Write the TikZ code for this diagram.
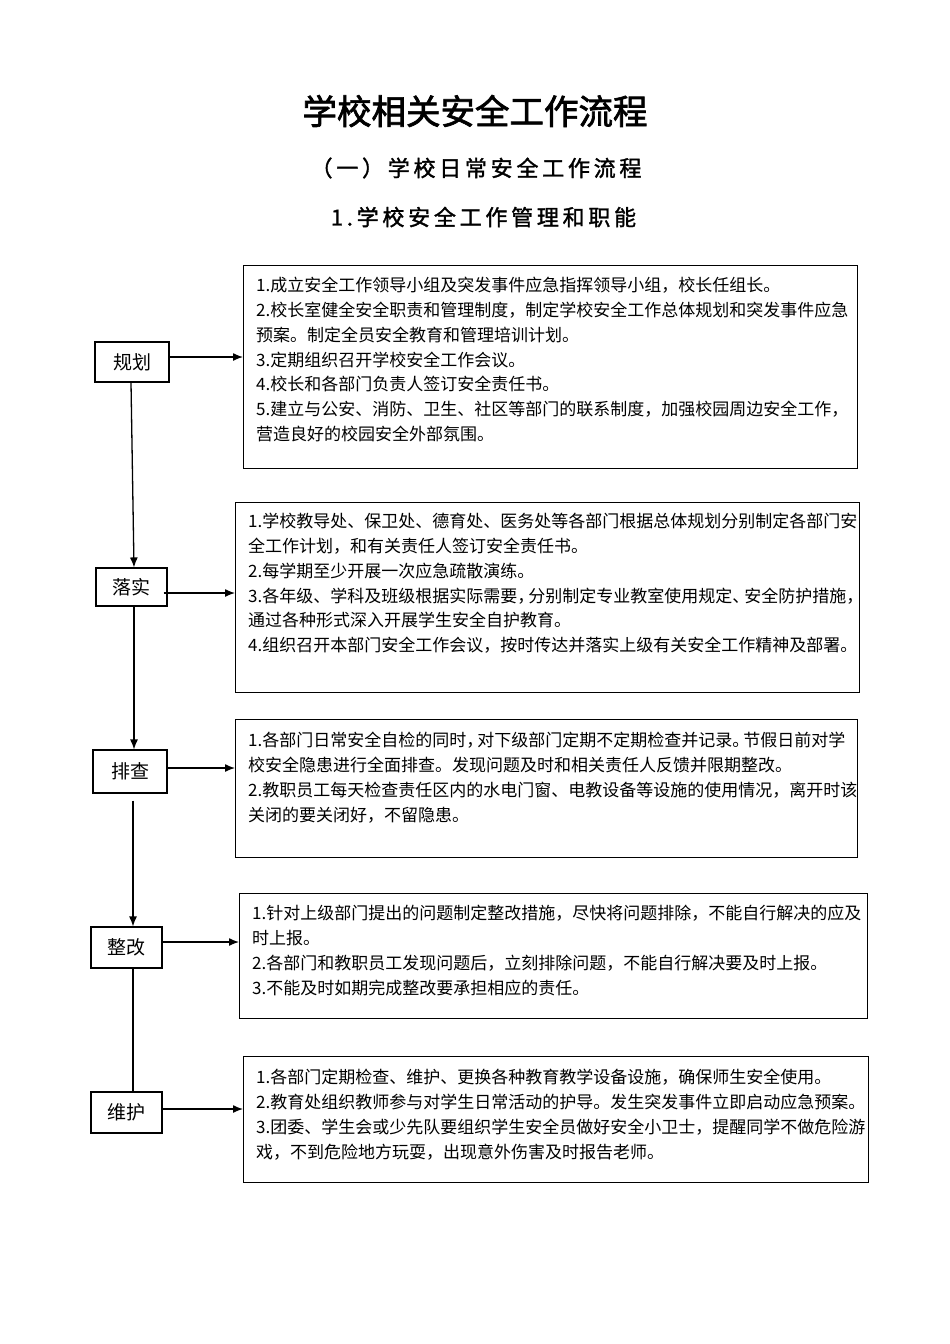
\documentclass[tikz,border=0pt]{standalone}
\usepackage{fontspec}
\newfontfamily\cjk{Noto Sans CJK SC}
\newfontfamily\cjkt[FakeBold=2]{Noto Sans CJK SC}
\newfontfamily\cjks[FakeBold=1.5,LetterSpace=17]{Noto Sans CJK SC}
\usetikzlibrary{arrows.meta}
\begin{document}
\begin{tikzpicture}[x=1pt,y=-1pt,
  lbox/.style={draw, line width=1.1pt, inner sep=0pt, font=\cjk\fontsize{19}{19}\selectfont},
  rbox/.style={draw, line width=1.1pt, inner sep=0pt, anchor=north west},
  body/.style={anchor=north west, inner sep=0pt, align=left, font=\cjk\fontsize{17}{24.8}\selectfont},
  arr/.style={line width=1.3pt, -{Latex[length=10pt,width=8pt]}},
  link/.style={line width=1.3pt}]
\useasboundingbox (0,0) rectangle (950,1344);
\fill[white] (0,0) rectangle (950,1344);

% titles
\node[inner sep=0pt, font=\cjkt\fontsize{34.5}{34.5}\selectfont] (title) at (475,111) {学校相关安全工作流程};
\node[inner sep=0pt, font=\cjks\fontsize{22}{22}\selectfont] (sub) at (476,168) {（一）学校日常安全工作流程};
\node[inner sep=0pt, font=\cjks\fontsize{22}{22}\selectfont] (head) at (483.5,217) {1.学校安全工作管理和职能};

% left step boxes
\node[lbox, minimum width=74pt, minimum height=40pt] (plan)  at (132,362)   {规划};
\node[lbox, minimum width=71pt, minimum height=38pt] (impl)  at (131.5,587) {落实};
\node[lbox, minimum width=74pt, minimum height=43pt] (check) at (130,771.5) {排查};
\node[lbox, minimum width=71pt, minimum height=41pt] (fix)   at (126.5,947.5) {整改};
\node[lbox, minimum width=71pt, minimum height=41pt] (maint) at (126.5,1112.5) {维护};

% right boxes
\node[rbox, minimum width=614pt, minimum height=203pt] (b1) at (243,265) {};
\node[rbox, minimum width=624pt, minimum height=190pt] (b2) at (235,502) {};
\node[rbox, minimum width=622pt, minimum height=138pt] (b3) at (235,719) {};
\node[rbox, minimum width=628pt, minimum height=125pt] (b4) at (239,893) {};
\node[rbox, minimum width=625pt, minimum height=126pt] (b5) at (243,1056) {};

% texts
\node[body] (t1) at (256,275.5) {\rule{0pt}{16pt}1.成立安全工作领导小组及突发事件应急指挥领导小组，校长任组长。\\
2.校长室健全安全职责和管理制度，制定学校安全工作总体规划和突发事件应急\\
预案。制定全员安全教育和管理培训计划。\\
3.定期组织召开学校安全工作会议。\\
4.校长和各部门负责人签订安全责任书。\\
5.建立与公安、消防、卫生、社区等部门的联系制度，加强校园周边安全工作，\\
营造良好的校园安全外部氛围。};

\node[body] (t2) at (248,511.5) {\rule{0pt}{16pt}1.学校教导处、保卫处、德育处、医务处等各部门根据总体规划分别制定各部门安\\
全工作计划，和有关责任人签订安全责任书。\\
2.每学期至少开展一次应急疏散演练。\\
3.各年级、学科及班级根据实际需要，\kern-6pt分别制定专业教室使用规定、\kern-5pt安全防护措施，\\
通过各种形式深入开展学生安全自护教育。\\
4.组织召开本部门安全工作会议，按时传达并落实上级有关安全工作精神及部署。};

\node[body] (t3) at (248,730.5) {\rule{0pt}{16pt}1.各部门日常安全自检的同时，\kern-6pt对下级部门定期不定期检查并记录。\kern-6pt节假日前对学\\
校安全隐患进行全面排查。发现问题及时和相关责任人反馈并限期整改。\\
2.教职员工每天检查责任区内的水电门窗、电教设备等设施的使用情况，离开时该\\
关闭的要关闭好，不留隐患。};

\node[body] (t4) at (252,903.5) {\rule{0pt}{16pt}1.针对上级部门提出的问题制定整改措施，尽快将问题排除，不能自行解决的应及\\
时上报。\\
2.各部门和教职员工发现问题后，立刻排除问题，不能自行解决要及时上报。\\
3.不能及时如期完成整改要承担相应的责任。};

\node[body] (t5) at (256,1067.5) {\rule{0pt}{16pt}1.各部门定期检查、维护、更换各种教育教学设备设施，确保师生安全使用。\\
2.教育处组织教师参与对学生日常活动的护导。发生突发事件立即启动应急预案。\\
3.团委、学生会或少先队要组织学生安全员做好安全小卫士，提醒同学不做危险游\\
戏，不到危险地方玩耍，出现意外伤害及时报告老师。};

% horizontal arrows
\draw[arr] ([yshift=5pt]plan.east) -- ([yshift=5pt]plan.east -| b1.west);
\draw[arr] ([xshift=-4pt,yshift=-6pt]impl.east) -- ([yshift=-6pt]impl.east -| b2.west);
\draw[arr] ([yshift=3.5pt]check.east) -- ([yshift=3.5pt]check.east -| b3.west);
\draw[arr] ([yshift=5.5pt]fix.east) -- ([yshift=5.5pt]fix.east -| b4.west);
\draw[arr] ([yshift=3.5pt]maint.east) -- ([yshift=3.5pt]maint.east -| b5.west);

% vertical connectors
\draw[arr] ([xshift=-1pt]plan.south) -- ([xshift=2.5pt]impl.north);
\draw[arr] ([xshift=2.5pt]impl.south) -- ([xshift=4pt]check.north);
\draw[arr, shorten <=7pt] ([xshift=3pt]check.south) -- ([xshift=6.5pt]fix.north);
\draw[link] ([xshift=6.5pt]fix.south) -- ([xshift=6.5pt]maint.north);
\end{tikzpicture}
\end{document}
